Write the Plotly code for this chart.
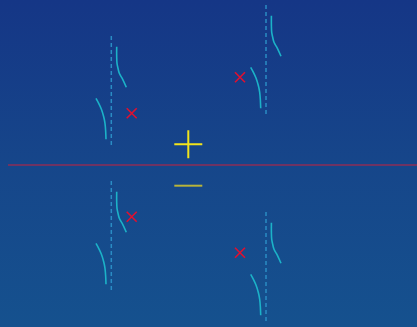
import plotly.graph_objects as go

mirror_x = [8, 417]
mirror_y = [0, 0]

# groups: asymptote x and centre height
group_x = [111.3, 266.0, 111.3, 266.0]
group_y = [73.0, 104.0, -72.0, -103.0]
asym_half = 56.0

# branch shape relative to group centre (dx right, dy downward on screen)
right_dx = [5.4, 5.4, 5.7, 6.7, 8.0, 11.4, 15.0]
right_dy = [-45.3, -35.3, -28.7, -23.7, -18.7, -12.7, -4.7]
left_dx = [-15.3, -12.6, -10.0, -7.6, -6.3, -5.6, -5.3]
left_dy = [6.3, 11.3, 17.0, 24.7, 31.3, 39.7, 47.3]

cross_x = [131.7, 240.0, 131.7, 240.0]
cross_y = [51.7, 87.7, -51.7, -87.7]

plus_x, plus_y = [188.3], [20.7]
minus_x, minus_y = [188.3], [-20.7]

X_RANGE = [0, 417]
Y_RANGE = [-162, 165]

fig = go.Figure()

# background gradient
fig.add_trace(go.Scatter(
    x=[X_RANGE[0], X_RANGE[1], X_RANGE[1], X_RANGE[0], X_RANGE[0]],
    y=[Y_RANGE[0], Y_RANGE[0], Y_RANGE[1], Y_RANGE[1], Y_RANGE[0]],
    mode="lines", line=dict(width=0), fill="toself",
    fillgradient=dict(type="vertical", start=Y_RANGE[0], stop=Y_RANGE[1],
                      colorscale=[[0, "#15518e"], [0.5, "#16468a"], [1, "#153686"]]),
    hoverinfo="skip", showlegend=False))

# mirror line
fig.add_trace(go.Scatter(x=mirror_x, y=mirror_y, mode="lines",
                         line=dict(color="#c8203c", width=1), showlegend=False))

for gx, gy in zip(group_x, group_y):
    fig.add_trace(go.Scatter(x=[gx, gx], y=[gy + asym_half, gy - asym_half], mode="lines",
                             line=dict(color="#2a8cc4", width=1.5, dash="4px,3px"),
                             showlegend=False))
    fig.add_trace(go.Scatter(x=[gx + d for d in right_dx], y=[gy - d for d in right_dy],
                             mode="lines", line=dict(color="#1cb2c8", width=1.6, shape="spline"),
                             showlegend=False))
    fig.add_trace(go.Scatter(x=[gx + d for d in left_dx], y=[gy - d for d in left_dy],
                             mode="lines", line=dict(color="#1cb2c8", width=1.6, shape="spline"),
                             showlegend=False))

fig.add_trace(go.Scatter(x=cross_x, y=cross_y, mode="markers",
                         marker=dict(symbol="x-thin", size=10, line=dict(color="#e01030", width=1.6)),
                         showlegend=False))
fig.add_trace(go.Scatter(x=plus_x, y=plus_y, mode="markers",
                         marker=dict(symbol="cross-thin", size=20, line=dict(color="#f2e41c", width=2)),
                         showlegend=False))
fig.add_trace(go.Scatter(x=minus_x, y=minus_y, mode="markers",
                         marker=dict(symbol="line-ew", size=20, line=dict(color="#b8b43a", width=2)),
                         showlegend=False))

fig.update_layout(
    width=417, height=327, margin=dict(l=0, r=0, t=0, b=0),
    paper_bgcolor="#16458a", plot_bgcolor="#16458a",
    xaxis=dict(range=X_RANGE, visible=False, fixedrange=True),
    yaxis=dict(range=Y_RANGE, visible=False, fixedrange=True),
    showlegend=False,
)

fig.write_html("out.html", config={"displayModeBar": False})
